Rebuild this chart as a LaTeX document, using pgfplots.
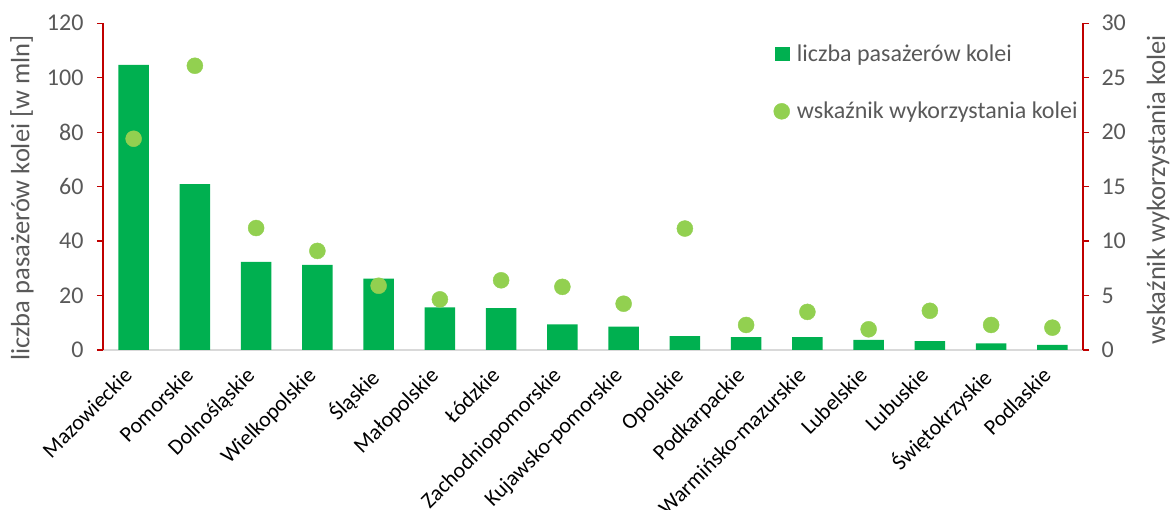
\documentclass[border=0pt]{standalone}
\usepackage{fontspec}
\setmainfont{Carlito}
\usepackage{pgfplots}
\pgfplotsset{compat=1.18}
\definecolor{barcol}{HTML}{00B050}
\definecolor{ptcol}{HTML}{92D050}
\definecolor{axred}{HTML}{C00000}
\definecolor{txtgray}{HTML}{595959}
\definecolor{linegray}{HTML}{D9D9D9}
\begin{document}
\begin{tikzpicture}
\pgfplotsset{
  common/.style={
    scale only axis, width=980pt, height=326.7pt,
    xmin=-0.5, xmax=15.5,
    tick align=outside, major tick length=6pt,
    /pgf/number format/assume math mode=true,
    y axis line style={draw=axred, line width=1.3pt},
    ytick style={draw=axred, line width=1.3pt},
    clip=false,
  }
}
\begin{axis}[common, name=ax1,
  ymin=0, ymax=120, ytick={0,20,...,120},
  axis y line*=left, axis x line*=bottom,
  yticklabel style={font=\fontsize{24}{28}\selectfont, color=txtgray, xshift=-10pt},
  x axis line style={draw=linegray, line width=2pt},
  xtick={0,...,15}, xtick style={draw=none},
  xticklabels={Mazowieckie,Pomorskie,Dolnośląskie,Wielkopolskie,Śląskie,Małopolskie,Łódzkie,Zachodniopomorskie,Kujawsko-pomorskie,Opolskie,Podkarpackie,Warmińsko-mazurskie,Lubelskie,Lubuskie,Świętokrzyskie,Podlaskie},
  xticklabel style={font=\fontsize{22}{26}\selectfont, color=black, inner sep=0pt, xshift=-11pt, yshift=-10pt, rotate=45, anchor=north east},
  ylabel={liczba pasażerów kolei [w mln]},
  ylabel style={font=\fontsize{26.5}{30}\selectfont, color=txtgray, at={(axis description cs:-0.0827,0.465)}, anchor=center, rotate=0},
]
\addplot[ybar, bar width=30.5pt, fill=barcol, draw=none] coordinates {
(0,104.7) (1,60.9) (2,32.4) (3,31.3) (4,26.2) (5,15.7) (6,15.4) (7,9.4) (8,8.6) (9,5.1) (10,4.7) (11,4.7) (12,3.7) (13,3.3) (14,2.4) (15,1.9)
};
\end{axis}
\begin{axis}[common,
  ymin=0, ymax=30, ytick={0,5,...,30},
  axis y line*=right, axis x line=none,
  yticklabel style={font=\fontsize{24}{28}\selectfont, color=txtgray, xshift=9pt},
  ylabel={wskaźnik wykorzystania kolei},
  ylabel style={font=\fontsize{26.5}{30}\selectfont, color=txtgray, at={(axis description cs:1.0765,0.49)}, anchor=center, rotate=0},
  legend style={at={(axis description cs:0.684,0.94)}, anchor=north west, draw=none, fill=none,
    font=\fontsize{24}{28}\selectfont, text=txtgray, row sep=35pt, inner sep=0pt,
    /tikz/every odd column/.append style={column sep=5pt}},
  legend cell align=left,
]
\addlegendimage{legend image code/.code={\fill[barcol] (0pt,-6.5pt) rectangle (13.5pt,6.5pt);}}
\addlegendentry{liczba pasażerów kolei}
\addplot[only marks, mark=*, mark size=8pt, color=ptcol, mark options={draw=none, fill=ptcol},
  legend image code/.code={\fill[ptcol] (6.5pt,0pt) circle (8pt);}] coordinates {
(0,19.4) (1,26.1) (2,11.2) (3,9.1) (4,5.9) (5,4.65) (6,6.4) (7,5.8) (8,4.25) (9,11.15) (10,2.3) (11,3.5) (12,1.9) (13,3.6) (14,2.3) (15,2.05)
};
\addlegendentry{wskaźnik wykorzystania kolei}
\end{axis}
\pgfresetboundingbox
\path (ax1.south west) ++(-103pt,-160pt) rectangle ++(1170pt,510pt);
\end{tikzpicture}
\end{document}
